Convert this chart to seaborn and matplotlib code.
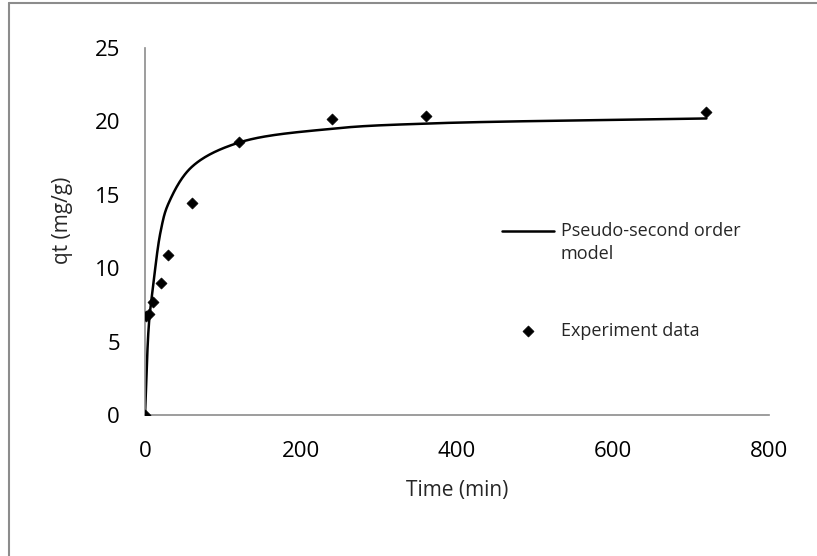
import numpy as np
import pandas as pd
import seaborn as sns
import matplotlib.pyplot as plt
from matplotlib.lines import Line2D
from matplotlib.legend_handler import HandlerLine2D

# experiment data
time_exp = [0, 1, 5, 10, 20, 30, 60, 120, 240, 360, 720]
qt_exp = [0, 6.75, 6.85, 7.7, 9.0, 10.9, 14.45, 18.6, 20.15, 20.4, 20.65]

# pseudo-second order model
time_model = [0, 5, 10, 20, 30, 60, 120, 240, 360, 720]
qt_model = [0, 6.2, 8.6, 12.5, 14.4, 16.9, 18.55, 19.5, 19.85, 20.2]

x_ticks = [0, 200, 400, 600, 800]
y_ticks = [0, 5, 10, 15, 20, 25]


def smooth_line(xs, ys, sx, sy, n=40):
    # centripetal catmull-rom, like excel's "smoothed line"
    P = np.column_stack([np.asarray(xs, float) * sx, np.asarray(ys, float) * sy])
    P = np.vstack([2 * P[0] - P[1], P, 2 * P[-1] - P[-2]])
    out = []
    for i in range(1, len(P) - 2):
        p0, p1, p2, p3 = P[i - 1], P[i], P[i + 1], P[i + 2]
        t0 = 0.0
        t1 = t0 + np.linalg.norm(p1 - p0) ** 0.5
        t2 = t1 + np.linalg.norm(p2 - p1) ** 0.5
        t3 = t2 + np.linalg.norm(p3 - p2) ** 0.5
        t = np.linspace(t1, t2, n)[:, None]
        a1 = (t1 - t) / (t1 - t0) * p0 + (t - t0) / (t1 - t0) * p1
        a2 = (t2 - t) / (t2 - t1) * p1 + (t - t1) / (t2 - t1) * p2
        a3 = (t3 - t) / (t3 - t2) * p2 + (t - t2) / (t3 - t2) * p3
        b1 = (t2 - t) / (t2 - t0) * a1 + (t - t0) / (t2 - t0) * a2
        b2 = (t3 - t) / (t3 - t1) * a2 + (t - t1) / (t3 - t1) * a3
        c = (t2 - t) / (t2 - t1) * b1 + (t - t1) / (t2 - t1) * b2
        out.append(c if i == 1 else c[1:])
    out = np.vstack(out)
    return out[:, 0] / sx, out[:, 1] / sy


class TopLineHandler(HandlerLine2D):
    # put the legend line level with the first line of a 2-line label
    def create_artists(self, legend, orig_handle, xdescent, ydescent,
                       width, height, fontsize, trans):
        arts = super().create_artists(legend, orig_handle, xdescent, ydescent,
                                      width, height, fontsize, trans)
        for a in arts:
            a.set_ydata(np.asarray(a.get_ydata()) + 0.68 * fontsize)
        return arts


sns.set_style("white")
plt.rcParams['font.family'] = ['Open Sans', 'DejaVu Sans']

fig = plt.figure(figsize=(8.17, 5.56), dpi=100)
ax = fig.add_axes([0.1775, 0.2536, 0.7635, 0.6601])

# pixel scale of the axes so the smoothing is done in screen space
sx = 624 / 800
sy = 367 / 25
xs, ys = smooth_line(time_model, qt_model, sx, sy)
model_df = pd.DataFrame({'t': xs, 'q': ys})
exp_df = pd.DataFrame({'t': time_exp, 'q': qt_exp})

sns.lineplot(data=model_df, x='t', y='q', sort=False, color='black', lw=1.8,
             ax=ax, label='Pseudo-second order\nmodel', zorder=2)
sns.scatterplot(data=exp_df, x='t', y='q', marker='D', s=32, color='black',
                edgecolor='black', ax=ax, label='Experiment data', zorder=3)

ax.set_xlim(0, 800)
ax.set_ylim(0, 25)
ax.set_xticks(x_ticks)
ax.set_yticks(y_ticks)
ax.tick_params(axis='both', length=0, labelsize=16, colors='black')
ax.tick_params(axis='x', pad=19)
ax.tick_params(axis='y', pad=18)

for side in ['top', 'right']:
    ax.spines[side].set_visible(False)
for side in ['left', 'bottom']:
    ax.spines[side].set_color('#8c8c8c')
    ax.spines[side].set_linewidth(1.2)

ax.set_xlabel('Time (min)', fontsize=15)
ax.set_ylabel('qt (mg/g)', fontsize=15)
ax.xaxis.set_label_coords(0.5, -0.178)
ax.yaxis.set_label_coords(-0.115, 0.53)

handles, labels = ax.get_legend_handles_labels()
leg = ax.legend(handles, labels, loc='upper left', bbox_to_anchor=(0.6144, 0.600),
                bbox_transform=fig.transFigure, frameon=False, fontsize=13,
                borderaxespad=0, borderpad=0, handlelength=2.9, handletextpad=0.35,
                labelspacing=3.3, handler_map={handles[0]: TopLineHandler()})
for t in leg.get_texts():
    t.set_linespacing(1.3)

# chart area border (only left and top visible)
fig.add_artist(Line2D([0.011, 0.011], [0, 0.9946], transform=fig.transFigure,
                      color='#8c8c8c', lw=1.5))
fig.add_artist(Line2D([0.011, 1.0], [0.9946, 0.9946], transform=fig.transFigure,
                      color='#8c8c8c', lw=1.5))

fig.savefig('out.png', dpi=100, facecolor='white')
plt.close(fig)
